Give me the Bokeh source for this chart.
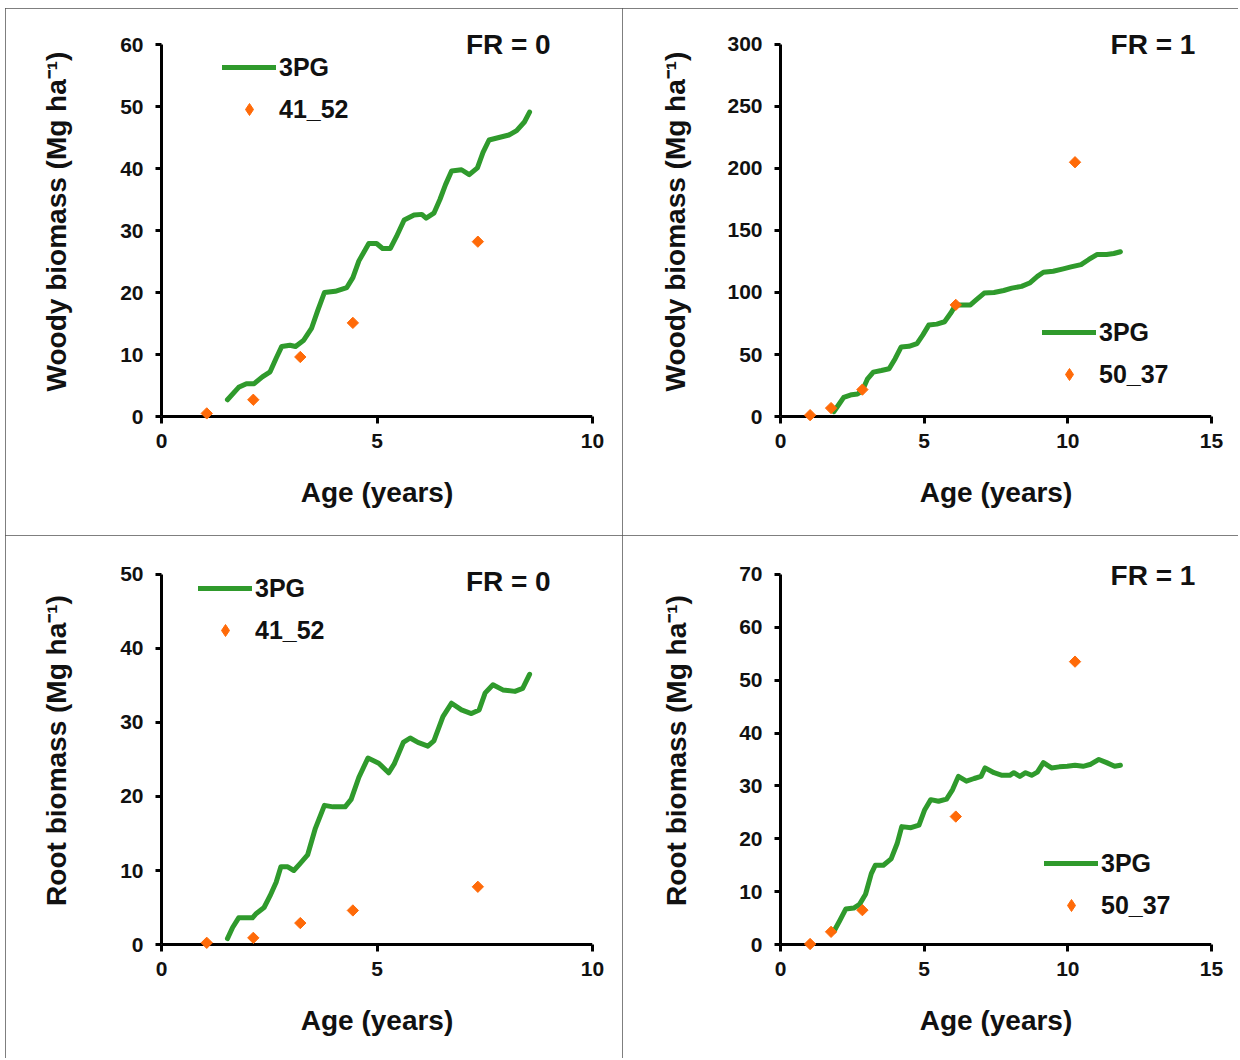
from bokeh.plotting import figure
from bokeh.models import Range1d, FixedTicker, Legend, LegendItem, Label, Span, Spacer
from bokeh.layouts import column, row
from bokeh.embed import file_html
from bokeh.resources import INLINE

# ---------------- data ----------------
# Woody biomass, FR = 0
woody_fr0_age = [1.53, 1.79, 1.97, 2.15, 2.34, 2.52, 2.66, 2.79, 2.98, 3.11, 3.30, 3.48, 3.62, 3.78,
                 4.03, 4.30, 4.44, 4.58, 4.81, 4.99, 5.13, 5.31, 5.45, 5.63, 5.86, 6.04, 6.14, 6.32,
                 6.46, 6.59, 6.73, 6.96, 7.14, 7.33, 7.46, 7.60, 7.83, 8.06, 8.24, 8.42, 8.54]
woody_fr0_3pg = [2.7, 4.7, 5.3, 5.3, 6.4, 7.2, 9.4, 11.3, 11.5, 11.3, 12.3, 14.2, 17.0, 20.0,
                 20.2, 20.8, 22.4, 25.1, 27.9, 27.9, 27.1, 27.1, 29.0, 31.7, 32.5, 32.6, 32.0, 32.8,
                 35.0, 37.4, 39.6, 39.8, 39.0, 40.1, 42.6, 44.6, 45.0, 45.4, 46.1, 47.5, 49.1]
woody_fr0_obs_age = [1.05, 2.13, 3.22, 4.44, 7.34]
woody_fr0_obs = [0.5, 2.7, 9.6, 15.1, 28.2]

# Woody biomass, FR = 1
woody_fr1_age = [1.86, 2.00, 2.20, 2.48, 2.68, 2.85, 3.03, 3.23, 3.51, 3.78, 3.99, 4.20, 4.47, 4.75,
                 4.95, 5.16, 5.44, 5.71, 5.92, 6.10, 6.33, 6.61, 6.81, 7.09, 7.43, 7.77, 8.05, 8.39,
                 8.67, 8.94, 9.15, 9.49, 9.84, 10.11, 10.46, 10.73, 11.01, 11.35, 11.60, 11.83]
woody_fr1_3pg = [4.0, 8.7, 15.4, 17.6, 18.2, 20.9, 30.4, 35.8, 37.1, 38.5, 46.6, 56.1, 56.6, 58.8,
                 65.6, 73.7, 74.5, 76.4, 83.2, 90.0, 90.0, 90.0, 94.0, 99.5, 100.0, 101.6, 103.5, 104.9,
                 107.6, 113.0, 116.3, 117.1, 119.0, 120.6, 122.5, 126.6, 130.6, 130.6, 131.4, 132.8]
woody_fr1_obs_age = [1.03, 1.76, 2.85, 6.10, 10.25]
woody_fr1_obs = [1.1, 6.8, 21.7, 90.0, 205.0]

# Root biomass, FR = 0
root_fr0_age = [1.53, 1.65, 1.79, 1.97, 2.11, 2.20, 2.38, 2.52, 2.66, 2.77, 2.93, 3.07, 3.21, 3.39,
                3.57, 3.78, 3.98, 4.26, 4.40, 4.58, 4.79, 5.04, 5.27, 5.40, 5.61, 5.77, 5.95, 6.18,
                6.32, 6.53, 6.73, 6.96, 7.19, 7.37, 7.51, 7.69, 7.92, 8.20, 8.38, 8.54]
root_fr0_3pg = [0.8, 2.3, 3.6, 3.6, 3.6, 4.2, 5.0, 6.6, 8.4, 10.5, 10.5, 10.0, 10.9, 12.1,
                15.7, 18.8, 18.6, 18.6, 19.6, 22.6, 25.2, 24.5, 23.2, 24.4, 27.3, 27.9, 27.3, 26.8,
                27.5, 30.8, 32.6, 31.7, 31.2, 31.7, 34.0, 35.1, 34.4, 34.2, 34.6, 36.5]
root_fr0_obs_age = [1.05, 2.13, 3.22, 4.44, 7.34]
root_fr0_obs = [0.23, 0.9, 2.9, 4.6, 7.8]

# Root biomass, FR = 1
root_fr1_age = [1.86, 2.06, 2.27, 2.55, 2.75, 2.96, 3.16, 3.30, 3.58, 3.85, 4.06, 4.22, 4.54, 4.82,
                5.02, 5.23, 5.50, 5.78, 5.99, 6.19, 6.47, 6.74, 6.98, 7.12, 7.43, 7.71, 7.98, 8.12,
                8.33, 8.53, 8.74, 8.94, 9.15, 9.43, 9.70, 9.98, 10.25, 10.53, 10.80, 11.08, 11.35,
                11.63, 11.83]
root_fr1_3pg = [2.5, 4.5, 6.7, 6.9, 7.6, 9.5, 13.4, 15.0, 15.0, 16.2, 19.1, 22.3, 22.1, 22.6,
                25.5, 27.4, 27.1, 27.5, 29.3, 31.8, 30.9, 31.4, 31.8, 33.4, 32.5, 32.0, 32.0, 32.5,
                31.8, 32.5, 32.0, 32.6, 34.4, 33.4, 33.6, 33.7, 33.9, 33.7, 34.1, 35.0, 34.4,
                33.7, 33.9]
root_fr1_obs_age = [1.03, 1.76, 2.85, 6.10, 10.25]
root_fr1_obs = [0.1, 2.4, 6.5, 24.2, 53.5]

x_label = "Age (years)"
woody_label = "Woody biomass (Mg ha\u207b\u00b9)"
root_label = "Root biomass (Mg ha\u207b\u00b9)"
line_name = "3PG"

# ---------------- style ----------------
GREEN = "#2F9A2C"
ORANGE = "#FF6A08"
TXT = "#111111"
FONT = "Liberation Sans"
PAD = 6       # px between the zero line and the frame bottom (room for markers at 0)
TOPPAD = 24   # px between the top tick and the frame top (room for the FR label)


def make_panel(age, sim, obs_age, obs, obs_name, xmax, xstep, ymax, ystep, ylabel, fr_text,
               fr_x, fr_y, w, h, left, right, top_tick, h0, ylab_standoff, leg_x, leg_y1, leg_y2):
    frame_h = h0 + PAD + TOPPAD
    top = top_tick - TOPPAD
    bottom = h - top - frame_h
    ystart = -ymax * PAD / h0
    yend = ymax + ymax * TOPPAD / h0
    p = figure(width=w, height=h, output_backend="svg", toolbar_location=None,
               x_range=Range1d(0, xmax), y_range=Range1d(ystart, yend),
               min_border_left=left, min_border_right=right,
               min_border_top=top, min_border_bottom=bottom,
               background_fill_color="white", border_fill_color="white",
               outline_line_color=None,
               styles={"outline": "1px solid #555555", "outline-offset": "-1px"})
    p.grid.visible = False
    # off-screen range used only to give the legend key its own renderer
    p.extra_y_ranges = {"key": Range1d(-3 * ymax, -2 * ymax)}

    xa = p.xaxis[0]
    ya = p.yaxis[0]
    ya.bounds = (0, ymax)
    xa.ticker = FixedTicker(ticks=[i * xstep for i in range(int(round(xmax / xstep)) + 1)])
    ya.ticker = FixedTicker(ticks=[i * ystep for i in range(int(round(ymax / ystep)) + 1)])
    for ax in (xa, ya):
        ax.axis_line_width = 3
        ax.axis_line_color = "black"
        ax.major_tick_line_width = 3
        ax.major_tick_line_color = "black"
        ax.minor_tick_line_color = None
        ax.major_label_text_font = FONT
        ax.major_label_text_font_size = "21px"
        ax.major_label_text_font_style = "bold"
        ax.major_label_text_color = TXT
        ax.axis_label_text_font = FONT
        ax.axis_label_text_font_size = "28px"
        ax.axis_label_text_font_style = "bold"
        ax.axis_label_text_color = TXT
    # x axis sits at the frame bottom; its ticks reach up to the zero line
    xa.axis_line_color = None
    xa.major_tick_in = PAD
    xa.major_tick_out = 1
    ya.major_tick_out = 6
    ya.major_tick_in = 0
    xa.axis_label = x_label
    ya.axis_label = ylabel
    xa.major_label_standoff = 10
    ya.major_label_standoff = 12
    xa.axis_label_standoff = 26
    ya.axis_label_standoff = ylab_standoff

    # zero line (drawn as the visible x-axis line)
    p.add_layout(Span(location=0, dimension="width", line_color="black", line_width=3,
                      level="underlay"))

    lr = p.line(age, sim, line_color=GREEN, line_width=5, line_join="round", line_cap="round")
    p.scatter(obs_age, obs, marker="square", angle=0.785398, size=8,
              fill_color=ORANGE, line_color=ORANGE, line_width=1)
    key = p.scatter(obs_age, obs, marker="diamond", size=12, fill_color=ORANGE,
                    line_color=ORANGE, y_range_name="key")

    common = dict(glyph_width=54, glyph_height=30, label_height=30, label_standoff=3,
                  padding=0, margin=0, spacing=0, border_line_alpha=0,
                  background_fill_alpha=0, label_text_font=FONT,
                  label_text_font_size="25px", label_text_font_style="bold",
                  label_text_color=TXT, label_text_baseline="middle")
    p.add_layout(Legend(items=[LegendItem(label=line_name, renderers=[lr])],
                        location=(leg_x, leg_y1), **common))
    p.add_layout(Legend(items=[LegendItem(label=obs_name, renderers=[key])],
                        location=(leg_x, leg_y2), **common))

    p.add_layout(Label(x=fr_x, y=fr_y, text=fr_text, text_align="right", text_baseline="middle",
                       text_font=FONT, text_font_size="28px", text_font_style="bold",
                       text_color=TXT))
    return p


p1 = make_panel(woody_fr0_age, woody_fr0_3pg, woody_fr0_obs_age, woody_fr0_obs, "41_52",
                10, 5, 60, 10, woody_label, "FR = 0", 9.03, 60,
                617, 527, 156, 30, 36, 372, 45, 61, 340, 298)
p2 = make_panel(woody_fr1_age, woody_fr1_3pg, woody_fr1_obs_age, woody_fr1_obs, "50_37",
                15, 5, 300, 50, woody_label, "FR = 1", 14.44, 300,
                616, 527, 158, 27, 36, 374, 33, 262, 75, 33)
p3 = make_panel(root_fr0_age, root_fr0_3pg, root_fr0_obs_age, root_fr0_obs, "41_52",
                10, 5, 50, 10, root_label, "FR = 0", 9.03, 49.05,
                617, 523, 156, 30, 38, 371, 45, 37, 347, 305)
p4 = make_panel(root_fr1_age, root_fr1_3pg, root_fr1_obs_age, root_fr1_obs, "50_37",
                15, 5, 70, 10, root_label, "FR = 1", 14.44, 69.8,
                616, 523, 158, 27, 39, 372, 44, 264, 72, 30)

layout = column(Spacer(height=8), row(Spacer(width=5), p1, p2), row(Spacer(width=5), p3, p4))
open("out.html", "w").write(file_html(layout, INLINE))
